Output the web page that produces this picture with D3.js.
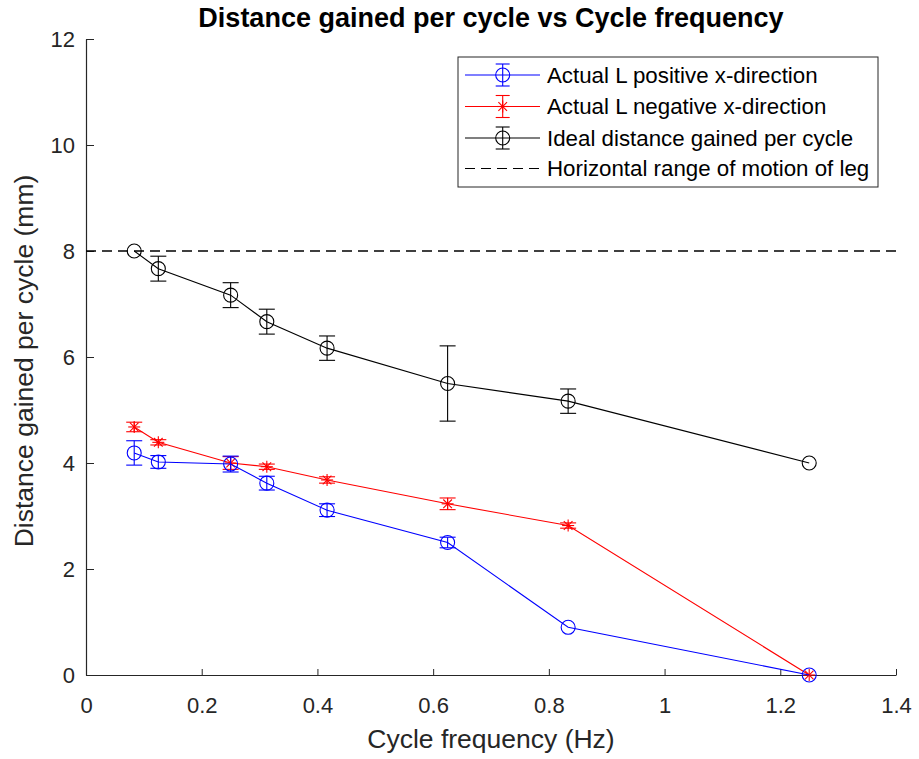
<!DOCTYPE html>
<html><head><meta charset="utf-8">
<script src="https://cdn.jsdelivr.net/npm/d3@7"></script>
<style>body{margin:0;background:#fff}svg{display:block}text{font-family:"Liberation Sans",Arial,sans-serif}</style>
</head><body>
<svg id="c" width="919" height="759"></svg>
<script>
const freq = [1/12, 1/8, 1/4, 5/16, 5/12, 5/8, 5/6, 5/4];
const posVal = [4.19, 4.02, 3.98, 3.62, 3.11, 2.50, 0.90, 0.0];
const posErr = [0.23, 0.12, 0.15, 0.13, 0.12, 0.10, 0.0, 0.0];
const negVal = [4.68, 4.39, 4.00, 3.93, 3.68, 3.23, 2.82, 0.0];
const negErr = [0.09, 0.05, 0.12, 0.05, 0.06, 0.11, 0.05, 0.0];
const idealVal = [8.0, 7.667, 7.167, 6.667, 6.167, 5.5, 5.167, 4.0];
const idealErr = [0.0, 0.235, 0.235, 0.235, 0.23, 0.71, 0.23, 0.0];
const rangeVal = 8;
const xTicks = [0, 0.2, 0.4, 0.6, 0.8, 1, 1.2, 1.4];
const yTicks = [0, 2, 4, 6, 8, 10, 12];
const legendLabels = ["Actual L positive x-direction", "Actual L negative x-direction", "Ideal distance gained per cycle", "Horizontal range of motion of leg"];

const svg = d3.select("#c");
const L = 86, R = 896, T = 39, B = 675;
const x = d3.scaleLinear().domain([0, 1.4]).range([L, R]);
const y = d3.scaleLinear().domain([0, 12]).range([B, T]);
const axisCol = "#262626";

// axes
const xa = svg.append("g").attr("transform", `translate(0,${B})`)
  .call(d3.axisBottom(x).tickValues(xTicks).tickSizeInner(-6).tickSizeOuter(0).tickPadding(22).tickFormat(d => d3.format("")(+d.toFixed(1))));
const ya = svg.append("g").attr("transform", `translate(${L},0)`)
  .call(d3.axisLeft(y).tickValues(yTicks).tickSizeInner(-8).tickSizeOuter(0).tickPadding(11));
[xa, ya].forEach(a => {
  a.select(".domain").attr("stroke", axisCol).attr("stroke-width", 1.2);
  a.selectAll(".tick line").attr("stroke", axisCol).attr("stroke-width", 1);
  a.selectAll(".tick text").attr("fill", axisCol).attr("font-size", 22).attr("font-family", '"Liberation Sans",Arial,sans-serif');
});

// dashed line
svg.append("line").attr("x1", x(0)).attr("x2", x(1.4)).attr("y1", y(rangeVal)).attr("y2", y(rangeVal))
  .attr("stroke", "#000").attr("stroke-width", 1.3).attr("stroke-dasharray", "10,6");

const line = d3.line().x(d => x(d[0])).y(d => y(d[1]));

function series(vals, errs, col, marker) {
  const g = svg.append("g");
  const pts = freq.map((f, i) => [f, vals[i], errs[i]]);
  g.append("path").attr("d", line(pts)).attr("fill", "none").attr("stroke", col).attr("stroke-width", 1.1);
  pts.forEach(p => {
    if (p[2] > 0) {
      const cx = x(p[0]), y1 = y(p[1] + p[2]), y2 = y(p[1] - p[2]);
      g.append("line").attr("x1", cx).attr("x2", cx).attr("y1", y1).attr("y2", y2).attr("stroke", col).attr("stroke-width", 1.1);
      [y1, y2].forEach(yy => g.append("line").attr("x1", cx - 8).attr("x2", cx + 8).attr("y1", yy).attr("y2", yy).attr("stroke", col).attr("stroke-width", 1.1));
    }
    drawMarker(g, x(p[0]), y(p[1]), col, marker);
  });
}
function drawMarker(g, cx, cy, col, marker) {
  if (marker === "o") {
    g.append("circle").attr("cx", cx).attr("cy", cy).attr("r", 7).attr("fill", "none").attr("stroke", col).attr("stroke-width", 1.1);
  } else {
    const s = 6, d = s * 0.72;
    [[-s, 0, s, 0], [0, -s, 0, s], [-d, -d, d, d], [-d, d, d, -d]].forEach(l =>
      g.append("line").attr("x1", cx + l[0]).attr("y1", cy + l[1]).attr("x2", cx + l[2]).attr("y2", cy + l[3]).attr("stroke", col).attr("stroke-width", 1.1));
  }
}
series(idealVal, idealErr, "#000000", "o");
series(negVal, negErr, "#ff0000", "*");
series(posVal, posErr, "#0000ff", "o");

// title and labels
svg.append("text").attr("x", (L + R) / 2).attr("y", 27).attr("text-anchor", "middle")
  .attr("font-size", 27).attr("font-weight", "bold").attr("fill", "#000").text("Distance gained per cycle vs Cycle frequency");
svg.append("text").attr("x", (L + R) / 2).attr("y", 748).attr("text-anchor", "middle")
  .attr("font-size", 26.5).attr("fill", axisCol).text("Cycle frequency (Hz)");
svg.append("text").attr("transform", `translate(33,${(T + B) / 2 + 4}) rotate(-90)`).attr("text-anchor", "middle")
  .attr("font-size", 26.5).attr("fill", axisCol).text("Distance gained per cycle (mm)");

// legend
const lg = svg.append("g");
lg.append("rect").attr("x", 458).attr("y", 57).attr("width", 420).attr("height", 130)
  .attr("fill", "#fff").attr("stroke", axisCol).attr("stroke-width", 1);
const rowY = [75, 106.5, 138, 168.5];
const cols = ["#0000ff", "#ff0000", "#000000", "#000000"];
legendLabels.forEach((t, i) => {
  const yy = rowY[i], col = cols[i];
  const ln = lg.append("line").attr("x1", 465).attr("x2", 540).attr("y1", yy).attr("y2", yy).attr("stroke", col).attr("stroke-width", 1.1);
  if (i === 3) ln.attr("stroke-dasharray", "10,6");
  else {
    const cx = 502.7;
    lg.append("line").attr("x1", cx).attr("x2", cx).attr("y1", yy - 11).attr("y2", yy + 11).attr("stroke", col).attr("stroke-width", 1.1);
    [yy - 11, yy + 11].forEach(v => lg.append("line").attr("x1", cx - 7).attr("x2", cx + 7).attr("y1", v).attr("y2", v).attr("stroke", col).attr("stroke-width", 1.1));
    drawMarker(lg, cx, yy, col, i === 1 ? "*" : "o");
  }
  lg.append("text").attr("x", 547).attr("y", yy + 7.5).attr("font-size", 22.3).attr("fill", "#000").text(t);
});
</script>
</body></html>
